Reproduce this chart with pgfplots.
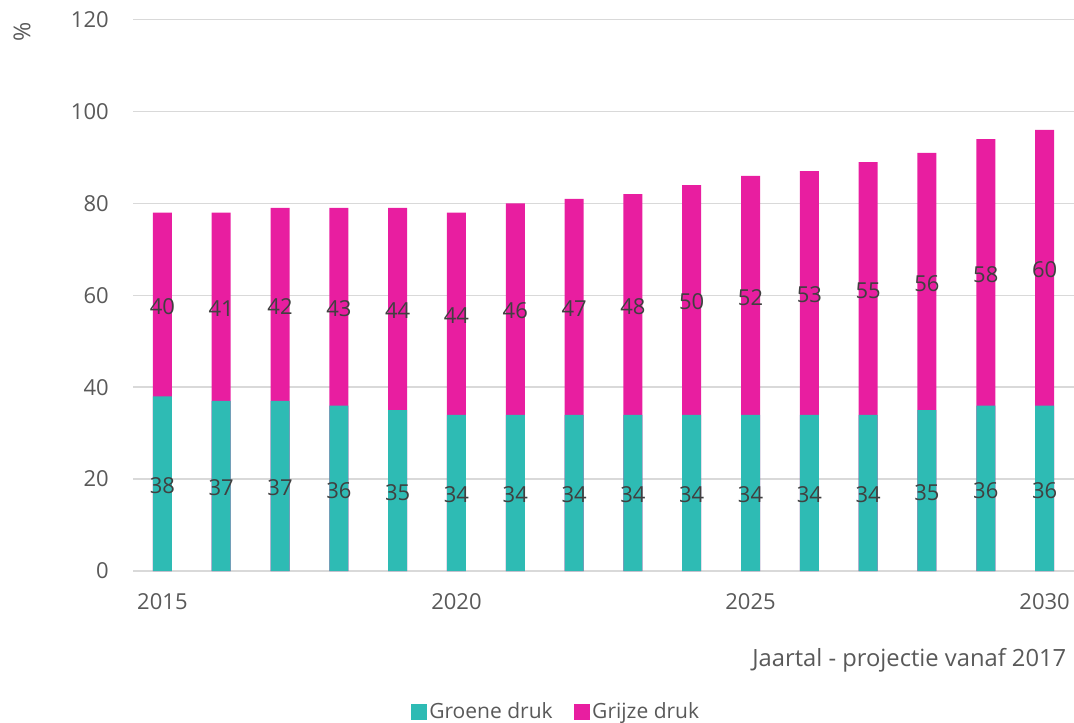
\documentclass[border=0pt]{standalone}
\usepackage{pgfplots}
\pgfplotsset{compat=1.18}
\usepackage{pgfplotstable}
\usepackage{fontspec}
\setmainfont{Open Sans}
\definecolor{groen}{HTML}{2EBBB4}
\definecolor{grijs}{HTML}{E81EA0}
\definecolor{tickc}{HTML}{595959}
\definecolor{lblc}{HTML}{404040}
\definecolor{gridc}{HTML}{D9D9D9}

\pgfplotstableread{
year g p
2015 38 40
2016 37 41
2017 37 42
2018 36 43
2019 35 44
2020 34 44
2021 34 46
2022 34 47
2023 34 48
2024 34 50
2025 34 52
2026 34 53
2027 34 55
2028 35 56
2029 36 58
2030 36 60
}\data

\begin{document}
\begin{tikzpicture}
\path[use as bounding box] (0pt,0pt) rectangle (805.5pt,541.5pt);
\begin{axis}[
  at={(99.75pt,113.25pt)}, anchor=south west,
  scale only axis, width=705.75pt, height=413.55pt,
  xmin=2014.5, xmax=2030.5,
  ymin=0, ymax=120,
  ytick={0,20,...,120},
  xtick={2015,2020,2025,2030},
  /pgf/number format/1000 sep={},
  /pgf/number format/assume math mode=true,
  axis line style={draw=none},
  major tick length=0pt,
  ymajorgrids,
  grid style={gridc, line width=1.1pt},
  tick label style={font=\fontsize{16.5}{19}\selectfont, text=tickc, inner sep=0pt},
  yticklabel style={anchor=east, xshift=-18pt},
  xticklabel style={anchor=base, yshift=-29pt},
  ylabel={\%},
  every axis y label/.style={at={(axis description cs:-0.118,0.9775)}, rotate=90, anchor=center, font=\fontsize{17.5}{20}\selectfont, text=tickc},
  xlabel={Jaartal - projectie vanaf 2017},
  every axis x label/.style={at={(axis description cs:0.9968,-0.174)}, anchor=base east, font=\fontsize{17.8}{20}\selectfont, text=tickc},
  legend style={at={(axis description cs:0.450,-0.2557)}, anchor=center, draw=none, fill=none,
    font=\fontsize{15.75}{18}\selectfont, text=tickc, legend columns=2,
    /tikz/every even column/.append style={column sep=14pt}},
  legend cell align=left,
  clip=false,
]
\addplot[ybar, bar width=14.25pt, bar shift=0pt, fill=grijs, draw=none, forget plot]
  table[x=year, y expr=\thisrow{g}+\thisrow{p}] {\data};
\addplot[ybar, bar width=14.25pt, bar shift=0pt, fill=groen, draw=none, forget plot]
  table[x=year, y=g] {\data};
\addplot[draw=none, mark=none, forget plot, nodes near coords, point meta=explicit,
  nodes near coords style={anchor=center, yshift=-1.5pt, text=lblc, font=\fontsize{16.5}{19}\selectfont, /pgf/number format/assume math mode=true}]
  table[x=year, y expr=\thisrow{g}/2, meta=g] {\data};
\addplot[draw=none, mark=none, forget plot, nodes near coords, point meta=explicit,
  nodes near coords style={anchor=center, yshift=-1.5pt, text=lblc, font=\fontsize{16.5}{19}\selectfont, /pgf/number format/assume math mode=true}]
  table[x=year, y expr=\thisrow{g}+\thisrow{p}/2, meta=p] {\data};
\addlegendimage{legend image code/.code={\fill[groen] (0pt,-5.6pt) rectangle (11.25pt,5.6pt);}}
\addlegendentry{Groene druk}
\addlegendimage{legend image code/.code={\fill[grijs] (0pt,-5.6pt) rectangle (11.25pt,5.6pt);}}
\addlegendentry{Grijze druk}
\end{axis}
\end{tikzpicture}
\end{document}
